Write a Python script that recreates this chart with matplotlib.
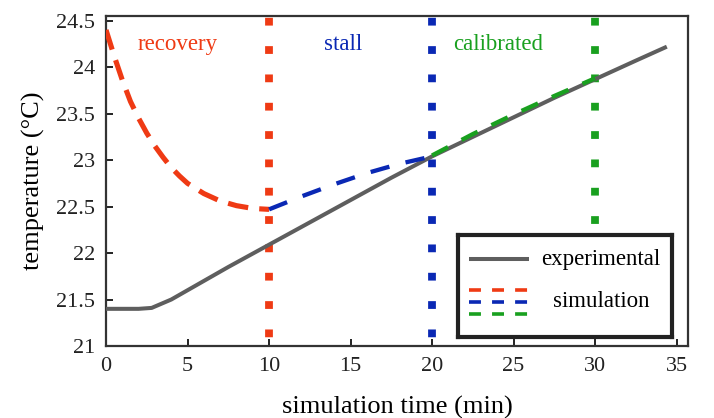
import numpy as np
import matplotlib
matplotlib.use("Agg")
import matplotlib.pyplot as plt

plt.rcParams['font.family'] = ['Liberation Serif', 'DejaVu Serif']
plt.rcParams['lines.scale_dashes'] = False

# --- measured temperature ---
exp_t = [0, 1, 2, 2.8, 4, 5, 7.5, 10, 12.5, 15, 17.5, 20, 22.5, 25, 27.5, 30, 32.5, 34.4]
exp_T = [21.40, 21.40, 21.40, 21.41, 21.50, 21.60, 21.85, 22.09, 22.33, 22.57,
         22.81, 23.04, 23.25, 23.46, 23.67, 23.87, 24.07, 24.22]

# --- simulated phases ---
rec_t = [0, 0.5, 1, 1.5, 2, 2.5, 3, 3.5, 4, 4.5, 5, 6, 7, 8, 9, 10]
rec_T = [24.40, 24.12, 23.86, 23.63, 23.45, 23.29, 23.15, 23.03, 22.92, 22.83,
         22.75, 22.64, 22.56, 22.51, 22.48, 22.47]
stall_t = [10, 12, 14, 16, 18, 20]
stall_T = [22.47, 22.61, 22.74, 22.86, 22.96, 23.04]
cal_t = [20, 22.5, 25, 27.5, 30]
cal_T = [23.05, 23.28, 23.49, 23.69, 23.88]

phase_bounds = [10, 20, 30]
phase_names = ['recovery', 'stall', 'calibrated']
phase_label_t = [4.4, 14.55, 24.05]

red = '#EF3A14'
blue = '#0A28B4'
green = '#19A01F'
grey = '#5E5E5E'
phase_colors = [red, blue, green]

fig = plt.figure(figsize=(7.14, 4.18), dpi=100)
ax = fig.add_axes([0.1485, 0.1722, 0.8151, 0.7895])

# phase boundaries as square-dotted lines
for xb, c in zip(phase_bounds, phase_colors):
    ax.axvline(xb, color=c, lw=5.6, linestyle=(14.1, (5.6, 14.8)),
               dash_capstyle='butt', zorder=1)

ax.plot(exp_t, exp_T, color=grey, lw=2.9, zorder=3, solid_capstyle='butt')
ax.plot(rec_t, rec_T, color=red, lw=3.7, dashes=(14.8, 8.0), zorder=4)
ax.plot(stall_t, stall_T, color=blue, lw=3.1, dashes=(14.0, 12.0), zorder=4)
ax.plot(cal_t, cal_T, color=green, lw=3.1, dashes=(13.0, 11.0), zorder=4)

for name, tx, c in zip(phase_names, phase_label_t, phase_colors):
    ax.text(tx, 24.24, name, color=c, fontsize=16.5, ha='center', va='center')

ax.set_xlim(0, 35.7)
ax.set_ylim(21, 24.55)
ax.set_xticks([0, 5, 10, 15, 20, 25, 30, 35])
ax.set_yticks([21, 21.5, 22, 22.5, 23, 23.5, 24, 24.5])
ax.set_xticklabels(['0', '5', '10', '15', '20', '25', '30', '35'])
ax.set_yticklabels(['21', '21.5', '22', '22.5', '23', '23.5', '24', '24.5'])
ax.tick_params(direction='in', length=5, width=1.4, labelsize=16, pad=8,
               colors='#222222')
for s in ax.spines.values():
    s.set_linewidth(1.6)
    s.set_color('#333333')

ax.set_xlabel('simulation time (min)', fontsize=19, labelpad=14)
ax.set_ylabel('temperature (°C)', fontsize=19, labelpad=8)

# legend box drawn by hand
leg = ax.inset_axes([0.605, 0.027, 0.3675, 0.309], zorder=10)
leg.set_xlim(0, 1)
leg.set_ylim(0, 1)
leg.set_xticks([])
leg.set_yticks([])
leg.set_facecolor('white')
for s in leg.spines.values():
    s.set_linewidth(3)
    s.set_color('#222222')
leg.plot([0.051, 0.332], [0.765, 0.765], color=grey, lw=2.9, solid_capstyle='butt')
leg.text(0.388, 0.765, 'experimental', fontsize=16.5, va='center', ha='left')
for yy, c in zip([0.46, 0.345, 0.225], phase_colors):
    leg.plot([0.051, 0.332], [yy, yy], color=c, lw=2.6, dashes=(8.6, 8.0),
             dash_capstyle='butt')
leg.text(0.444, 0.345, 'simulation', fontsize=16.5, va='center', ha='left')

fig.savefig('out.png', dpi=100)
